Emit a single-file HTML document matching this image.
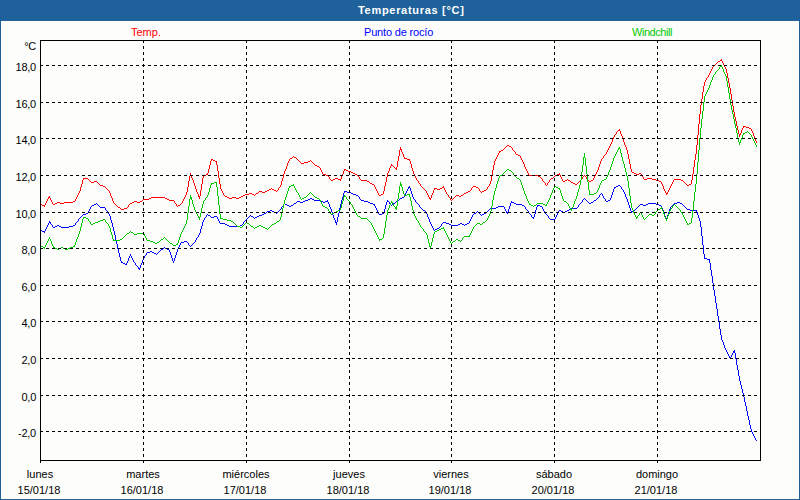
<!DOCTYPE html>
<html><head><meta charset="utf-8"><title>Temperaturas</title>
<style>
html,body{margin:0;padding:0;}
body{width:800px;height:500px;overflow:hidden;background:#fdfefc;font-family:"Liberation Sans",sans-serif;font-size:11px;color:#000;position:relative;}
#wrap{position:absolute;left:0;top:0;width:800px;height:500px;box-sizing:border-box;border:1px solid #1e6299;border-top:none;background:#fdfefc;}
#hdr{position:absolute;left:0;top:0;width:800px;height:21px;background:#1e6299;}
#title{z-index:2;position:absolute;left:358px;top:3px;letter-spacing:0.7px;color:#fff;font-weight:bold;font-size:11px;line-height:14px;white-space:nowrap;}
.lg{position:absolute;top:25px;line-height:14px;white-space:nowrap;font-size:11px;}
.yl{position:absolute;left:0;width:36px;letter-spacing:-0.25px;text-align:right;line-height:14px;white-space:nowrap;}
.xl{position:absolute;width:100px;text-align:center;line-height:14px;white-space:nowrap;}
</style></head><body>
<div id="wrap"></div>
<div id="hdr"></div>
<div id="title">Temperaturas [°C]</div>
<div class="lg" style="left:131px;color:#ff0000">Temp.</div>
<div class="lg" style="left:364px;color:#0000ff;letter-spacing:-0.17px">Punto de rocío</div>
<div class="lg" style="left:632px;color:#00c800;letter-spacing:-0.45px">Windchill</div>
<div class="yl" style="top:39px">°C</div>
<svg width="800" height="500" viewBox="0 0 800 500" style="position:absolute;left:0;top:0">
<defs><pattern id="dth" x="0" y="0" width="4" height="6" patternUnits="userSpaceOnUse"><rect x="2" y="1" width="1" height="1" fill="#2163aa"/><rect x="1" y="3" width="1" height="1" fill="#2163aa"/><rect x="0" y="5" width="1" height="1" fill="#2163aa"/></pattern></defs>
<rect x="0" y="0" width="800" height="21" fill="url(#dth)" shape-rendering="crispEdges"/>
<path d="M40 204h2v1h-2zM42 205h3v1h-3zM48 197h2v1h-2zM53 204h2v1h-2zM55 203h2v1h-2zM57 202h3v1h-3zM60 203h4v1h-4zM64 202h9v1h-9zM73 201h2v1h-2zM83 178h5v1h-5zM91 182h3v1h-3zM94 181h3v1h-3zM100 185h3v1h-3zM103 186h2v1h-2zM118 207h2v1h-2zM121 209h3v1h-3zM124 208h3v1h-3zM130 203h2v1h-2zM132 202h2v1h-2zM134 201h3v1h-3zM137 202h3v1h-3zM140 201h2v1h-2zM143 199h6v1h-6zM149 198h2v1h-2zM151 197h14v1h-14zM165 198h2v1h-2zM167 199h2v1h-2zM169 200h5v1h-5zM178 205h2v1h-2zM190 175h2v1h-2zM198 196h2v1h-2zM203 175h3v1h-3zM206 174h2v1h-2zM211 159h2v1h-2zM213 160h2v1h-2zM215 161h2v1h-2zM225 196h2v1h-2zM227 197h2v1h-2zM229 198h3v1h-3zM232 197h4v1h-4zM236 198h3v1h-3zM239 197h2v1h-2zM241 196h2v1h-2zM243 195h2v1h-2zM245 194h4v1h-4zM249 193h3v1h-3zM252 194h2v1h-2zM256 193h2v1h-2zM259 191h3v1h-3zM262 192h3v1h-3zM265 191h2v1h-2zM267 190h2v1h-2zM269 189h2v1h-2zM272 189h2v1h-2zM274 190h2v1h-2zM290 158h2v1h-2zM294 157h2v1h-2zM301 163h3v1h-3zM304 162h4v1h-4zM308 161h2v1h-2zM315 165h2v1h-2zM317 166h2v1h-2zM323 174h3v1h-3zM326 175h2v1h-2zM331 180h2v1h-2zM333 179h2v1h-2zM335 178h3v1h-3zM338 179h3v1h-3zM344 169h2v1h-2zM346 170h2v1h-2zM348 171h3v1h-3zM351 172h2v1h-2zM353 173h2v1h-2zM355 174h2v1h-2zM361 180h6v1h-6zM367 181h2v1h-2zM370 183h2v1h-2zM372 184h2v1h-2zM379 195h2v1h-2zM381 194h2v1h-2zM391 165h2v1h-2zM395 168h2v1h-2zM400 149h2v1h-2zM404 158h3v1h-3zM407 159h3v1h-3zM429 198h2v1h-2zM434 188h3v1h-3zM437 189h3v1h-3zM440 188h2v1h-2zM442 187h2v1h-2zM456 195h3v1h-3zM459 196h2v1h-2zM461 195h2v1h-2zM464 193h2v1h-2zM466 192h2v1h-2zM468 191h2v1h-2zM473 186h3v1h-3zM476 187h2v1h-2zM482 191h2v1h-2zM484 190h2v1h-2zM499 151h2v1h-2zM501 150h2v1h-2zM507 145h2v1h-2zM509 146h2v1h-2zM516 154h2v1h-2zM518 155h2v1h-2zM529 175h9v1h-9zM538 176h2v1h-2zM551 178h2v1h-2zM555 175h2v1h-2zM557 174h3v1h-3zM563 181h2v1h-2zM565 180h2v1h-2zM568 180h2v1h-2zM571 182h2v1h-2zM573 183h2v1h-2zM575 184h2v1h-2zM589 181h2v1h-2zM591 180h2v1h-2zM618 130h2v1h-2zM632 172h2v1h-2zM634 173h2v1h-2zM636 174h3v1h-3zM639 173h2v1h-2zM644 179h3v1h-3zM647 178h5v1h-5zM652 179h4v1h-4zM656 180h3v1h-3zM659 181h2v1h-2zM666 193h2v1h-2zM674 179h7v1h-7zM681 180h2v1h-2zM687 185h2v1h-2zM689 184h2v1h-2zM718 61h2v1h-2zM720 60h2v1h-2zM739 134h2v1h-2zM743 126h3v1h-3zM746 127h3v1h-3zM749 128h2v1h-2zM44 206h1v1h-1zM45 203h1v2h-1zM46 201h1v2h-1zM47 199h1v2h-1zM48 198h1v1h-1zM49 196h1v1h-1zM50 198h1v2h-1zM51 200h1v2h-1zM52 202h1v2h-1zM75 199h1v2h-1zM76 197h1v2h-1zM77 195h1v2h-1zM78 193h1v2h-1zM79 191h1v2h-1zM80 187h1v4h-1zM81 184h1v3h-1zM82 180h1v4h-1zM83 179h1v1h-1zM88 179h1v1h-1zM89 180h1v1h-1zM90 181h1v1h-1zM97 182h1v1h-1zM98 183h1v1h-1zM99 184h1v1h-1zM105 187h1v1h-1zM106 188h1v1h-1zM107 189h1v1h-1zM108 190h1v1h-1zM109 191h1v2h-1zM110 193h1v3h-1zM111 196h1v2h-1zM112 198h1v3h-1zM113 201h1v2h-1zM114 203h1v1h-1zM115 204h1v1h-1zM116 205h1v1h-1zM117 206h1v1h-1zM120 208h1v1h-1zM127 207h1v1h-1zM128 205h1v2h-1zM129 204h1v1h-1zM142 200h1v1h-1zM174 201h1v2h-1zM175 203h1v1h-1zM176 204h1v2h-1zM177 206h1v1h-1zM180 204h1v1h-1zM181 203h1v1h-1zM182 201h1v2h-1zM183 199h1v2h-1zM184 197h1v2h-1zM185 195h1v2h-1zM186 192h1v3h-1zM187 187h1v5h-1zM188 181h1v6h-1zM189 176h1v5h-1zM190 173h1v2h-1zM191 176h1v2h-1zM192 178h1v2h-1zM193 180h1v3h-1zM194 183h1v3h-1zM195 186h1v3h-1zM196 189h1v3h-1zM197 192h1v2h-1zM198 194h1v2h-1zM199 197h1v2h-1zM200 190h1v6h-1zM201 184h1v6h-1zM202 178h1v6h-1zM203 176h1v2h-1zM207 173h1v1h-1zM208 169h1v4h-1zM209 165h1v4h-1zM210 161h1v4h-1zM211 160h1v1h-1zM216 162h1v3h-1zM217 165h1v6h-1zM218 171h1v7h-1zM219 178h1v6h-1zM220 184h1v5h-1zM221 189h1v2h-1zM222 191h1v2h-1zM223 193h1v2h-1zM224 195h1v1h-1zM254 195h1v1h-1zM255 194h1v1h-1zM258 192h1v1h-1zM271 188h1v1h-1zM276 191h1v1h-1zM277 190h1v1h-1zM278 188h1v2h-1zM279 187h1v1h-1zM280 185h1v2h-1zM281 181h1v4h-1zM282 178h1v3h-1zM283 174h1v4h-1zM284 171h1v3h-1zM285 169h1v2h-1zM286 166h1v3h-1zM287 163h1v3h-1zM288 161h1v2h-1zM289 159h1v2h-1zM292 157h1v1h-1zM293 156h1v1h-1zM296 158h1v1h-1zM297 159h1v1h-1zM298 160h1v1h-1zM299 161h1v1h-1zM300 162h1v1h-1zM310 160h1v1h-1zM311 161h1v1h-1zM312 162h1v1h-1zM313 163h1v1h-1zM314 164h1v1h-1zM319 167h1v1h-1zM320 168h1v2h-1zM321 170h1v2h-1zM322 172h1v2h-1zM328 176h1v1h-1zM329 177h1v2h-1zM330 179h1v1h-1zM340 180h1v1h-1zM341 176h1v3h-1zM342 174h1v2h-1zM343 171h1v3h-1zM344 170h1v1h-1zM357 175h1v1h-1zM358 176h1v1h-1zM359 177h1v2h-1zM360 179h1v1h-1zM369 182h1v1h-1zM374 185h1v2h-1zM375 187h1v2h-1zM376 189h1v2h-1zM377 191h1v2h-1zM378 193h1v2h-1zM383 191h1v3h-1zM384 186h1v5h-1zM385 182h1v4h-1zM386 177h1v5h-1zM387 173h1v4h-1zM388 171h1v2h-1zM389 168h1v3h-1zM390 166h1v2h-1zM391 164h1v1h-1zM393 166h1v1h-1zM394 167h1v1h-1zM396 167h1v1h-1zM396 169h1v1h-1zM397 161h1v6h-1zM398 156h1v5h-1zM399 150h1v6h-1zM400 147h1v2h-1zM401 150h1v2h-1zM402 152h1v2h-1zM403 154h1v3h-1zM404 157h1v1h-1zM409 160h1v1h-1zM410 161h1v3h-1zM411 164h1v4h-1zM412 168h1v3h-1zM413 171h1v3h-1zM414 174h1v2h-1zM415 176h1v2h-1zM416 178h1v2h-1zM417 180h1v1h-1zM418 181h1v2h-1zM419 183h1v1h-1zM420 184h1v2h-1zM421 186h1v1h-1zM422 187h1v1h-1zM423 188h1v1h-1zM424 189h1v1h-1zM425 190h1v1h-1zM426 191h1v2h-1zM427 193h1v2h-1zM428 195h1v2h-1zM429 197h1v1h-1zM430 199h1v1h-1zM431 195h1v3h-1zM432 193h1v2h-1zM433 190h1v3h-1zM434 189h1v1h-1zM443 186h1v1h-1zM444 188h1v2h-1zM445 190h1v2h-1zM446 192h1v2h-1zM447 194h1v1h-1zM448 195h1v2h-1zM449 197h1v1h-1zM450 198h1v2h-1zM451 200h1v1h-1zM452 199h1v1h-1zM453 198h1v1h-1zM454 197h1v1h-1zM455 196h1v1h-1zM463 194h1v1h-1zM470 190h1v1h-1zM471 188h1v2h-1zM472 187h1v1h-1zM478 188h1v1h-1zM479 189h1v2h-1zM480 191h1v1h-1zM481 192h1v1h-1zM486 189h1v1h-1zM487 187h1v2h-1zM488 186h1v1h-1zM489 184h1v2h-1zM490 181h1v3h-1zM491 176h1v5h-1zM492 170h1v6h-1zM493 165h1v5h-1zM494 161h1v4h-1zM495 159h1v2h-1zM496 157h1v2h-1zM497 155h1v2h-1zM498 153h1v2h-1zM499 152h1v1h-1zM503 149h1v1h-1zM504 148h1v1h-1zM505 147h1v1h-1zM506 146h1v1h-1zM511 147h1v1h-1zM512 148h1v2h-1zM513 150h1v1h-1zM514 151h1v1h-1zM515 152h1v2h-1zM520 156h1v2h-1zM521 158h1v2h-1zM522 160h1v2h-1zM523 162h1v2h-1zM524 164h1v3h-1zM525 167h1v2h-1zM526 169h1v2h-1zM527 171h1v2h-1zM528 173h1v2h-1zM540 177h1v1h-1zM541 178h1v1h-1zM542 179h1v2h-1zM543 181h1v1h-1zM544 182h1v1h-1zM545 183h1v2h-1zM546 185h1v1h-1zM547 183h1v2h-1zM548 182h1v1h-1zM549 180h1v2h-1zM550 179h1v1h-1zM553 177h1v1h-1zM554 176h1v1h-1zM559 173h1v1h-1zM560 175h1v2h-1zM561 177h1v2h-1zM562 179h1v2h-1zM567 179h1v1h-1zM570 181h1v1h-1zM577 183h1v1h-1zM578 182h1v1h-1zM579 181h1v1h-1zM580 180h1v1h-1zM581 179h1v1h-1zM582 177h1v2h-1zM583 176h1v1h-1zM584 175h1v1h-1zM585 176h1v1h-1zM586 177h1v2h-1zM587 179h1v1h-1zM588 180h1v1h-1zM593 178h1v2h-1zM594 176h1v2h-1zM595 174h1v2h-1zM596 172h1v2h-1zM597 170h1v2h-1zM598 167h1v3h-1zM599 164h1v3h-1zM600 161h1v3h-1zM601 159h1v2h-1zM602 158h1v1h-1zM603 156h1v2h-1zM604 155h1v1h-1zM605 154h1v1h-1zM606 152h1v2h-1zM607 150h1v2h-1zM608 148h1v2h-1zM609 146h1v2h-1zM610 144h1v2h-1zM611 142h1v2h-1zM612 139h1v3h-1zM613 137h1v2h-1zM614 135h1v2h-1zM615 134h1v1h-1zM616 132h1v2h-1zM617 131h1v1h-1zM619 129h1v1h-1zM620 131h1v3h-1zM621 134h1v2h-1zM622 136h1v3h-1zM623 139h1v3h-1zM624 142h1v3h-1zM625 145h1v2h-1zM626 147h1v3h-1zM627 150h1v4h-1zM628 154h1v5h-1zM629 159h1v5h-1zM630 164h1v5h-1zM631 169h1v3h-1zM641 174h1v2h-1zM642 176h1v1h-1zM643 177h1v2h-1zM661 182h1v2h-1zM662 184h1v2h-1zM663 186h1v3h-1zM664 189h1v2h-1zM665 191h1v2h-1zM666 194h1v1h-1zM667 192h1v1h-1zM668 190h1v2h-1zM669 188h1v2h-1zM670 186h1v2h-1zM671 184h1v2h-1zM672 182h1v2h-1zM673 180h1v2h-1zM683 181h1v1h-1zM684 182h1v1h-1zM685 183h1v1h-1zM686 184h1v1h-1zM691 180h1v4h-1zM692 174h1v6h-1zM693 167h1v7h-1zM694 160h1v7h-1zM695 154h1v6h-1zM696 145h1v9h-1zM697 135h1v10h-1zM698 124h1v11h-1zM699 114h1v10h-1zM700 105h1v9h-1zM701 99h1v6h-1zM702 92h1v7h-1zM703 86h1v6h-1zM704 82h1v4h-1zM705 80h1v2h-1zM706 78h1v2h-1zM707 77h1v1h-1zM708 75h1v2h-1zM709 73h1v2h-1zM710 71h1v2h-1zM711 69h1v2h-1zM712 67h1v2h-1zM713 66h1v1h-1zM714 65h1v1h-1zM715 64h1v1h-1zM716 63h1v1h-1zM717 62h1v1h-1zM721 59h1v1h-1zM722 61h1v2h-1zM723 63h1v2h-1zM724 65h1v2h-1zM725 67h1v2h-1zM726 69h1v4h-1zM727 73h1v5h-1zM728 78h1v5h-1zM729 83h1v5h-1zM730 88h1v6h-1zM731 94h1v6h-1zM732 100h1v6h-1zM733 106h1v6h-1zM734 112h1v5h-1zM735 117h1v4h-1zM736 121h1v5h-1zM737 126h1v4h-1zM738 130h1v4h-1zM739 135h1v2h-1zM740 133h1v1h-1zM741 130h1v3h-1zM742 128h1v2h-1zM743 127h1v1h-1zM751 129h1v2h-1zM752 131h1v2h-1zM753 133h1v3h-1zM754 136h1v3h-1zM755 139h1v2h-1zM756 141h1v2h-1z" fill="#ff0000" shape-rendering="crispEdges"/>
<path d="M40 230h2v1h-2zM42 231h3v1h-3zM49 222h2v1h-2zM53 227h2v1h-2zM55 226h2v1h-2zM57 225h2v1h-2zM59 226h2v1h-2zM61 227h8v1h-8zM69 226h4v1h-4zM73 225h2v1h-2zM83 214h3v1h-3zM86 213h2v1h-2zM92 205h2v1h-2zM94 204h2v1h-2zM100 207h5v1h-5zM121 262h2v1h-2zM123 263h2v1h-2zM125 264h2v1h-2zM138 268h2v1h-2zM147 252h3v1h-3zM150 251h2v1h-2zM152 252h2v1h-2zM154 253h2v1h-2zM161 249h2v1h-2zM165 248h2v1h-2zM167 249h2v1h-2zM181 242h3v1h-3zM184 241h3v1h-3zM208 215h2v1h-2zM211 217h3v1h-3zM214 216h3v1h-3zM220 223h5v1h-5zM225 224h2v1h-2zM227 225h2v1h-2zM229 226h11v1h-11zM240 225h2v1h-2zM251 216h2v1h-2zM255 217h2v1h-2zM257 216h2v1h-2zM259 215h3v1h-3zM262 214h2v1h-2zM264 213h2v1h-2zM267 211h3v1h-3zM270 210h2v1h-2zM272 211h2v1h-2zM274 212h2v1h-2zM285 204h2v1h-2zM287 205h2v1h-2zM289 206h2v1h-2zM291 205h2v1h-2zM294 203h2v1h-2zM297 201h3v1h-3zM300 202h3v1h-3zM303 201h2v1h-2zM305 200h3v1h-3zM308 199h2v1h-2zM310 198h2v1h-2zM312 199h2v1h-2zM314 200h7v1h-7zM321 201h2v1h-2zM323 202h2v1h-2zM325 201h3v1h-3zM335 222h2v1h-2zM344 191h3v1h-3zM347 192h4v1h-4zM351 193h2v1h-2zM353 194h3v1h-3zM356 195h2v1h-2zM361 200h3v1h-3zM364 201h4v1h-4zM368 202h2v1h-2zM370 203h3v1h-3zM373 204h2v1h-2zM379 214h3v1h-3zM382 213h2v1h-2zM387 201h2v1h-2zM393 203h2v1h-2zM397 200h2v1h-2zM400 198h2v1h-2zM402 197h2v1h-2zM408 187h2v1h-2zM423 210h2v1h-2zM435 229h2v1h-2zM437 228h2v1h-2zM443 222h3v1h-3zM446 223h3v1h-3zM449 224h2v1h-2zM451 225h7v1h-7zM458 224h2v1h-2zM460 223h2v1h-2zM462 224h2v1h-2zM465 224h2v1h-2zM467 223h2v1h-2zM474 213h2v1h-2zM482 214h2v1h-2zM484 213h2v1h-2zM490 208h6v1h-6zM496 207h2v1h-2zM498 206h6v1h-6zM506 212h2v1h-2zM511 202h3v1h-3zM514 203h2v1h-2zM516 204h6v1h-6zM522 205h2v1h-2zM532 217h2v1h-2zM537 205h3v1h-3zM540 206h2v1h-2zM550 219h5v1h-5zM559 210h2v1h-2zM561 211h2v1h-2zM563 212h2v1h-2zM565 211h2v1h-2zM567 210h2v1h-2zM569 209h2v1h-2zM571 208h6v1h-6zM589 203h2v1h-2zM591 202h2v1h-2zM594 200h2v1h-2zM606 201h2v1h-2zM608 200h2v1h-2zM614 187h2v1h-2zM616 186h2v1h-2zM618 185h2v1h-2zM631 211h2v1h-2zM633 210h2v1h-2zM640 204h3v1h-3zM643 205h3v1h-3zM646 204h2v1h-2zM648 203h8v1h-8zM656 204h3v1h-3zM659 205h2v1h-2zM674 203h3v1h-3zM677 202h3v1h-3zM680 203h2v1h-2zM687 209h3v1h-3zM690 210h7v1h-7zM704 258h3v1h-3zM707 259h3v1h-3zM729 357h2v1h-2zM733 351h2v1h-2zM733 352h2v1h-2zM44 232h1v1h-1zM45 229h1v2h-1zM46 227h1v2h-1zM47 225h1v2h-1zM48 223h1v2h-1zM49 221h1v1h-1zM50 223h1v1h-1zM51 224h1v1h-1zM52 225h1v2h-1zM75 223h1v2h-1zM76 222h1v1h-1zM77 221h1v1h-1zM78 219h1v2h-1zM79 218h1v1h-1zM80 217h1v1h-1zM81 216h1v1h-1zM82 215h1v1h-1zM88 211h1v2h-1zM89 209h1v2h-1zM90 207h1v2h-1zM91 206h1v1h-1zM96 203h1v1h-1zM97 204h1v1h-1zM98 205h1v1h-1zM99 206h1v1h-1zM105 208h1v2h-1zM106 210h1v1h-1zM107 211h1v1h-1zM108 212h1v2h-1zM109 214h1v2h-1zM110 216h1v4h-1zM111 220h1v3h-1zM112 223h1v4h-1zM113 227h1v4h-1zM114 231h1v4h-1zM115 235h1v5h-1zM116 240h1v4h-1zM117 244h1v5h-1zM118 249h1v4h-1zM119 253h1v4h-1zM120 257h1v4h-1zM121 261h1v1h-1zM126 263h1v1h-1zM127 261h1v2h-1zM128 258h1v3h-1zM129 256h1v2h-1zM130 254h1v2h-1zM131 256h1v2h-1zM132 258h1v2h-1zM133 260h1v2h-1zM134 262h1v1h-1zM135 263h1v2h-1zM136 265h1v1h-1zM137 266h1v1h-1zM138 267h1v1h-1zM139 269h1v1h-1zM140 265h1v3h-1zM141 263h1v2h-1zM142 260h1v3h-1zM143 258h1v2h-1zM144 256h1v2h-1zM145 255h1v1h-1zM146 253h1v2h-1zM156 254h1v1h-1zM157 253h1v1h-1zM158 252h1v1h-1zM159 251h1v1h-1zM160 250h1v1h-1zM163 248h1v1h-1zM164 247h1v1h-1zM169 250h1v2h-1zM170 252h1v3h-1zM171 255h1v3h-1zM172 258h1v3h-1zM173 261h1v2h-1zM174 258h1v3h-1zM175 255h1v3h-1zM176 252h1v3h-1zM177 249h1v3h-1zM178 247h1v2h-1zM179 245h1v2h-1zM180 243h1v2h-1zM187 242h1v1h-1zM188 243h1v2h-1zM189 245h1v1h-1zM190 246h1v1h-1zM191 245h1v1h-1zM192 244h1v1h-1zM193 243h1v1h-1zM194 242h1v1h-1zM195 240h1v2h-1zM196 238h1v2h-1zM197 237h1v1h-1zM198 235h1v2h-1zM199 233h1v2h-1zM200 229h1v4h-1zM201 226h1v3h-1zM202 222h1v4h-1zM203 220h1v2h-1zM204 218h1v2h-1zM205 217h1v1h-1zM206 215h1v2h-1zM207 214h1v1h-1zM210 216h1v1h-1zM217 217h1v2h-1zM218 219h1v2h-1zM219 221h1v2h-1zM242 224h1v1h-1zM243 222h1v2h-1zM244 221h1v1h-1zM245 220h1v1h-1zM246 219h1v1h-1zM247 218h1v1h-1zM248 217h1v1h-1zM249 216h1v1h-1zM250 215h1v1h-1zM253 217h1v1h-1zM254 218h1v1h-1zM266 212h1v1h-1zM276 213h1v1h-1zM277 212h1v1h-1zM278 211h1v1h-1zM279 210h1v1h-1zM280 209h1v1h-1zM281 207h1v2h-1zM282 206h1v1h-1zM283 204h1v2h-1zM284 203h1v1h-1zM293 204h1v1h-1zM296 202h1v1h-1zM327 200h1v1h-1zM328 202h1v2h-1zM329 204h1v3h-1zM330 207h1v2h-1zM331 209h1v3h-1zM332 212h1v3h-1zM333 215h1v3h-1zM334 218h1v2h-1zM335 220h1v2h-1zM336 223h1v2h-1zM337 217h1v5h-1zM338 213h1v4h-1zM339 208h1v5h-1zM340 204h1v4h-1zM341 200h1v4h-1zM342 197h1v3h-1zM343 193h1v4h-1zM344 192h1v1h-1zM358 196h1v1h-1zM359 197h1v2h-1zM360 199h1v1h-1zM374 205h1v1h-1zM375 206h1v2h-1zM376 208h1v2h-1zM377 210h1v2h-1zM378 212h1v2h-1zM383 212h1v1h-1zM384 209h1v3h-1zM385 205h1v4h-1zM386 202h1v3h-1zM387 200h1v1h-1zM389 202h1v2h-1zM390 204h1v1h-1zM391 205h1v1h-1zM392 204h1v1h-1zM395 202h1v1h-1zM396 201h1v1h-1zM399 199h1v1h-1zM404 195h1v2h-1zM405 193h1v2h-1zM406 191h1v2h-1zM407 189h1v2h-1zM408 188h1v1h-1zM409 186h1v1h-1zM410 188h1v3h-1zM411 191h1v3h-1zM412 194h1v3h-1zM413 197h1v2h-1zM414 199h1v1h-1zM415 200h1v2h-1zM416 202h1v1h-1zM417 203h1v1h-1zM418 204h1v1h-1zM419 205h1v2h-1zM420 207h1v1h-1zM421 208h1v1h-1zM422 209h1v1h-1zM425 211h1v1h-1zM426 212h1v2h-1zM427 214h1v3h-1zM428 217h1v2h-1zM429 219h1v3h-1zM430 222h1v2h-1zM431 224h1v2h-1zM432 226h1v2h-1zM433 228h1v2h-1zM434 230h1v1h-1zM439 227h1v1h-1zM440 226h1v1h-1zM441 224h1v2h-1zM442 223h1v1h-1zM464 225h1v1h-1zM469 221h1v2h-1zM470 219h1v2h-1zM471 217h1v2h-1zM472 215h1v2h-1zM473 214h1v1h-1zM476 212h1v1h-1zM477 211h1v1h-1zM478 212h1v1h-1zM479 213h1v1h-1zM480 214h1v1h-1zM481 215h1v1h-1zM486 212h1v1h-1zM487 211h1v1h-1zM488 210h1v1h-1zM489 209h1v1h-1zM504 207h1v2h-1zM505 209h1v2h-1zM506 211h1v1h-1zM507 213h1v1h-1zM508 209h1v3h-1zM509 206h1v3h-1zM510 203h1v3h-1zM511 201h1v1h-1zM524 206h1v1h-1zM525 207h1v2h-1zM526 209h1v1h-1zM527 210h1v1h-1zM528 211h1v2h-1zM529 213h1v1h-1zM530 214h1v1h-1zM531 215h1v2h-1zM533 218h1v1h-1zM534 214h1v3h-1zM535 210h1v4h-1zM536 207h1v3h-1zM537 206h1v1h-1zM542 207h1v2h-1zM543 209h1v2h-1zM544 211h1v1h-1zM545 212h1v2h-1zM546 214h1v1h-1zM547 215h1v1h-1zM548 216h1v2h-1zM549 218h1v1h-1zM555 217h1v2h-1zM556 215h1v2h-1zM557 213h1v2h-1zM558 211h1v2h-1zM577 207h1v1h-1zM578 205h1v2h-1zM579 204h1v1h-1zM580 203h1v1h-1zM581 202h1v1h-1zM582 200h1v2h-1zM583 199h1v1h-1zM584 198h1v1h-1zM585 199h1v1h-1zM586 200h1v1h-1zM587 201h1v1h-1zM588 202h1v1h-1zM593 201h1v1h-1zM596 199h1v1h-1zM597 198h1v1h-1zM598 197h1v1h-1zM599 195h1v2h-1zM600 194h1v1h-1zM601 193h1v1h-1zM602 194h1v2h-1zM603 196h1v2h-1zM604 198h1v1h-1zM605 199h1v2h-1zM610 198h1v2h-1zM611 195h1v3h-1zM612 192h1v3h-1zM613 189h1v3h-1zM614 188h1v1h-1zM620 186h1v1h-1zM621 187h1v2h-1zM622 189h1v1h-1zM623 190h1v2h-1zM624 192h1v2h-1zM625 194h1v3h-1zM626 197h1v2h-1zM627 199h1v3h-1zM628 202h1v3h-1zM629 205h1v3h-1zM630 208h1v3h-1zM631 212h1v1h-1zM635 209h1v1h-1zM636 208h1v1h-1zM637 207h1v1h-1zM638 206h1v1h-1zM639 205h1v1h-1zM661 206h1v2h-1zM662 208h1v2h-1zM663 210h1v3h-1zM664 213h1v3h-1zM665 216h1v2h-1zM666 218h1v2h-1zM667 215h1v3h-1zM668 212h1v3h-1zM669 209h1v3h-1zM670 207h1v2h-1zM671 206h1v1h-1zM672 205h1v1h-1zM673 204h1v1h-1zM682 204h1v1h-1zM683 205h1v1h-1zM684 206h1v1h-1zM685 207h1v1h-1zM686 208h1v1h-1zM696 211h1v1h-1zM697 212h1v3h-1zM698 215h1v3h-1zM699 218h1v3h-1zM700 221h1v6h-1zM701 227h1v9h-1zM702 236h1v9h-1zM703 245h1v9h-1zM704 254h1v4h-1zM709 260h1v3h-1zM710 263h1v7h-1zM711 270h1v6h-1zM712 276h1v7h-1zM713 283h1v7h-1zM714 290h1v6h-1zM715 296h1v7h-1zM716 303h1v6h-1zM717 309h1v7h-1zM718 316h1v6h-1zM719 322h1v7h-1zM720 329h1v6h-1zM721 335h1v5h-1zM722 340h1v2h-1zM723 342h1v3h-1zM724 345h1v3h-1zM725 348h1v2h-1zM726 350h1v2h-1zM727 352h1v2h-1zM728 354h1v2h-1zM729 356h1v1h-1zM730 358h1v1h-1zM731 355h1v2h-1zM732 353h1v2h-1zM734 350h1v1h-1zM735 353h1v6h-1zM736 359h1v6h-1zM737 365h1v5h-1zM738 370h1v6h-1zM739 376h1v5h-1zM740 381h1v4h-1zM741 385h1v4h-1zM742 389h1v4h-1zM743 393h1v4h-1zM744 397h1v5h-1zM745 402h1v4h-1zM746 406h1v5h-1zM747 411h1v5h-1zM748 416h1v4h-1zM749 420h1v5h-1zM750 425h1v4h-1zM751 429h1v3h-1zM752 432h1v2h-1zM753 434h1v2h-1zM754 436h1v2h-1zM755 438h1v2h-1zM756 440h1v1h-1z" fill="#0000ff" shape-rendering="crispEdges"/>
<path d="M41 246h2v1h-2zM43 247h2v1h-2zM53 247h2v1h-2zM55 248h2v1h-2zM57 249h2v1h-2zM59 248h2v1h-2zM61 247h2v1h-2zM63 248h2v1h-2zM65 249h3v1h-3zM68 248h2v1h-2zM70 247h3v1h-3zM73 246h2v1h-2zM83 217h3v1h-3zM86 218h2v1h-2zM91 224h2v1h-2zM93 223h2v1h-2zM95 222h3v1h-3zM98 221h2v1h-2zM100 220h3v1h-3zM103 219h2v1h-2zM113 240h7v1h-7zM120 239h2v1h-2zM127 233h2v1h-2zM131 232h2v1h-2zM134 234h3v1h-3zM137 233h7v1h-7zM147 240h3v1h-3zM150 241h3v1h-3zM153 242h2v1h-2zM155 243h2v1h-2zM157 242h2v1h-2zM161 239h2v1h-2zM170 243h2v1h-2zM173 245h3v1h-3zM176 244h2v1h-2zM190 197h2v1h-2zM190 198h2v1h-2zM198 217h2v1h-2zM211 183h3v1h-3zM214 182h3v1h-3zM220 218h3v1h-3zM223 219h4v1h-4zM227 220h4v1h-4zM231 221h2v1h-2zM237 226h3v1h-3zM240 227h2v1h-2zM247 223h2v1h-2zM251 226h2v1h-2zM255 227h2v1h-2zM257 226h2v1h-2zM259 225h2v1h-2zM261 226h2v1h-2zM263 227h2v1h-2zM265 228h2v1h-2zM272 224h2v1h-2zM274 223h2v1h-2zM277 221h2v1h-2zM289 186h2v1h-2zM291 185h3v1h-3zM302 198h2v1h-2zM304 197h2v1h-2zM315 197h2v1h-2zM317 198h2v1h-2zM323 206h2v1h-2zM325 207h2v1h-2zM332 213h2v1h-2zM334 212h2v1h-2zM336 211h2v1h-2zM338 210h2v1h-2zM344 196h2v1h-2zM358 216h2v1h-2zM361 218h6v1h-6zM379 239h3v1h-3zM391 202h2v1h-2zM395 207h2v1h-2zM395 208h2v1h-2zM400 184h2v1h-2zM400 185h2v1h-2zM404 195h3v1h-3zM407 194h3v1h-3zM429 246h2v1h-2zM435 231h2v1h-2zM437 230h2v1h-2zM439 229h2v1h-2zM441 228h3v1h-3zM453 241h2v1h-2zM456 239h2v1h-2zM458 240h2v1h-2zM464 236h6v1h-6zM477 223h3v1h-3zM480 224h2v1h-2zM483 222h2v1h-2zM500 175h2v1h-2zM507 169h2v1h-2zM509 170h2v1h-2zM517 178h2v1h-2zM529 204h2v1h-2zM531 205h2v1h-2zM534 205h2v1h-2zM537 203h6v1h-6zM543 204h2v1h-2zM545 205h2v1h-2zM554 186h2v1h-2zM556 187h2v1h-2zM558 188h2v1h-2zM564 201h2v1h-2zM570 209h2v1h-2zM583 157h2v1h-2zM589 194h5v1h-5zM594 193h2v1h-2zM602 180h2v1h-2zM604 179h2v1h-2zM618 148h2v1h-2zM636 217h2v1h-2zM649 214h3v1h-3zM652 215h2v1h-2zM658 209h2v1h-2zM660 208h2v1h-2zM687 224h2v1h-2zM689 223h2v1h-2zM720 66h2v1h-2zM739 142h2v1h-2zM743 133h2v1h-2zM745 132h2v1h-2zM40 245h1v1h-1zM44 248h1v1h-1zM45 245h1v2h-1zM46 243h1v2h-1zM47 241h1v2h-1zM48 239h1v2h-1zM49 237h1v2h-1zM50 239h1v2h-1zM51 241h1v3h-1zM52 244h1v2h-1zM53 246h1v1h-1zM74 245h1v1h-1zM75 242h1v3h-1zM76 239h1v3h-1zM77 237h1v2h-1zM78 234h1v3h-1zM79 231h1v3h-1zM80 227h1v4h-1zM81 223h1v4h-1zM82 219h1v4h-1zM83 218h1v1h-1zM88 219h1v2h-1zM89 221h1v1h-1zM90 222h1v2h-1zM105 220h1v2h-1zM106 222h1v1h-1zM107 223h1v1h-1zM108 224h1v2h-1zM109 226h1v2h-1zM110 228h1v4h-1zM111 232h1v3h-1zM112 235h1v4h-1zM113 239h1v1h-1zM122 238h1v1h-1zM123 237h1v1h-1zM124 236h1v1h-1zM125 235h1v1h-1zM126 234h1v1h-1zM129 232h1v1h-1zM130 231h1v1h-1zM133 233h1v1h-1zM144 234h1v2h-1zM145 236h1v2h-1zM146 238h1v2h-1zM159 241h1v1h-1zM160 240h1v1h-1zM163 238h1v1h-1zM164 237h1v1h-1zM165 238h1v1h-1zM166 239h1v1h-1zM167 240h1v1h-1zM168 241h1v1h-1zM169 242h1v1h-1zM172 244h1v1h-1zM177 243h1v1h-1zM178 240h1v3h-1zM179 237h1v3h-1zM180 234h1v3h-1zM181 232h1v2h-1zM182 230h1v2h-1zM183 228h1v2h-1zM184 226h1v2h-1zM185 224h1v2h-1zM186 220h1v4h-1zM187 213h1v7h-1zM188 206h1v7h-1zM189 199h1v7h-1zM190 195h1v2h-1zM191 199h1v1h-1zM192 200h1v4h-1zM193 204h1v3h-1zM194 207h1v3h-1zM195 210h1v2h-1zM196 212h1v2h-1zM197 214h1v2h-1zM198 216h1v1h-1zM199 218h1v2h-1zM200 213h1v4h-1zM201 208h1v5h-1zM202 204h1v4h-1zM203 201h1v3h-1zM204 200h1v1h-1zM205 198h1v2h-1zM206 197h1v1h-1zM207 195h1v2h-1zM208 192h1v3h-1zM209 188h1v4h-1zM210 185h1v3h-1zM211 184h1v1h-1zM216 183h1v4h-1zM217 187h1v9h-1zM218 196h1v9h-1zM219 205h1v9h-1zM220 214h1v4h-1zM233 222h1v1h-1zM234 223h1v1h-1zM235 224h1v1h-1zM236 225h1v1h-1zM242 226h1v1h-1zM243 225h1v1h-1zM244 224h1v1h-1zM245 223h1v1h-1zM246 222h1v1h-1zM249 224h1v1h-1zM250 225h1v1h-1zM253 227h1v1h-1zM254 228h1v1h-1zM267 229h1v1h-1zM268 228h1v1h-1zM269 227h1v1h-1zM270 226h1v1h-1zM271 225h1v1h-1zM276 222h1v1h-1zM279 220h1v1h-1zM280 217h1v3h-1zM281 213h1v4h-1zM282 208h1v5h-1zM283 204h1v4h-1zM284 200h1v4h-1zM285 197h1v3h-1zM286 194h1v3h-1zM287 191h1v3h-1zM288 188h1v3h-1zM289 187h1v1h-1zM293 184h1v1h-1zM294 186h1v2h-1zM295 188h1v2h-1zM296 190h1v2h-1zM297 192h1v1h-1zM298 193h1v2h-1zM299 195h1v2h-1zM300 197h1v2h-1zM301 199h1v1h-1zM306 196h1v1h-1zM307 195h1v1h-1zM308 194h1v1h-1zM309 193h1v1h-1zM310 192h1v1h-1zM311 193h1v1h-1zM312 194h1v1h-1zM313 195h1v1h-1zM314 196h1v1h-1zM319 199h1v1h-1zM320 200h1v2h-1zM321 202h1v2h-1zM322 204h1v2h-1zM327 208h1v1h-1zM328 209h1v2h-1zM329 211h1v1h-1zM330 212h1v2h-1zM331 214h1v1h-1zM340 208h1v2h-1zM341 204h1v4h-1zM342 201h1v3h-1zM343 197h1v4h-1zM344 195h1v1h-1zM346 197h1v2h-1zM347 199h1v1h-1zM348 200h1v1h-1zM349 201h1v1h-1zM350 202h1v2h-1zM351 204h1v1h-1zM352 205h1v2h-1zM353 207h1v2h-1zM354 209h1v2h-1zM355 211h1v2h-1zM356 213h1v2h-1zM357 215h1v1h-1zM360 217h1v1h-1zM367 219h1v1h-1zM368 220h1v1h-1zM369 221h1v1h-1zM370 222h1v1h-1zM371 223h1v2h-1zM372 225h1v2h-1zM373 227h1v2h-1zM374 229h1v2h-1zM375 231h1v2h-1zM376 233h1v2h-1zM377 235h1v2h-1zM378 237h1v2h-1zM379 240h1v1h-1zM382 238h1v1h-1zM383 234h1v4h-1zM384 228h1v6h-1zM385 221h1v7h-1zM386 215h1v6h-1zM387 210h1v5h-1zM388 208h1v2h-1zM389 205h1v3h-1zM390 203h1v2h-1zM391 201h1v1h-1zM392 203h1v1h-1zM393 204h1v2h-1zM394 206h1v1h-1zM396 206h1v1h-1zM396 209h1v1h-1zM397 199h1v7h-1zM398 193h1v6h-1zM399 186h1v7h-1zM400 182h1v2h-1zM401 186h1v1h-1zM402 187h1v4h-1zM403 191h1v3h-1zM404 194h1v1h-1zM409 195h1v2h-1zM410 197h1v4h-1zM411 201h1v5h-1zM412 206h1v4h-1zM413 210h1v4h-1zM414 214h1v2h-1zM415 216h1v2h-1zM416 218h1v2h-1zM417 220h1v1h-1zM418 221h1v2h-1zM419 223h1v2h-1zM420 225h1v2h-1zM421 227h1v1h-1zM422 228h1v1h-1zM423 229h1v2h-1zM424 231h1v1h-1zM425 232h1v1h-1zM426 233h1v2h-1zM427 235h1v4h-1zM428 239h1v4h-1zM429 243h1v3h-1zM430 247h1v2h-1zM431 242h1v4h-1zM432 238h1v4h-1zM433 234h1v4h-1zM434 232h1v2h-1zM443 227h1v1h-1zM444 229h1v2h-1zM445 231h1v2h-1zM446 233h1v2h-1zM447 235h1v2h-1zM448 237h1v2h-1zM449 239h1v2h-1zM450 241h1v2h-1zM451 243h1v1h-1zM452 242h1v1h-1zM455 240h1v1h-1zM460 241h1v1h-1zM461 240h1v1h-1zM462 238h1v2h-1zM463 237h1v1h-1zM469 235h1v1h-1zM470 233h1v2h-1zM471 231h1v2h-1zM472 229h1v2h-1zM473 227h1v2h-1zM474 226h1v1h-1zM475 225h1v1h-1zM476 224h1v1h-1zM482 223h1v1h-1zM485 221h1v1h-1zM486 220h1v1h-1zM487 218h1v2h-1zM488 216h1v2h-1zM489 214h1v2h-1zM490 211h1v3h-1zM491 206h1v5h-1zM492 200h1v6h-1zM493 195h1v5h-1zM494 191h1v4h-1zM495 188h1v3h-1zM496 184h1v4h-1zM497 181h1v3h-1zM498 178h1v3h-1zM499 176h1v2h-1zM502 174h1v1h-1zM503 173h1v1h-1zM504 172h1v1h-1zM505 171h1v1h-1zM506 170h1v1h-1zM511 171h1v1h-1zM512 172h1v1h-1zM513 173h1v2h-1zM514 175h1v1h-1zM515 176h1v1h-1zM516 177h1v1h-1zM519 179h1v1h-1zM520 180h1v2h-1zM521 182h1v3h-1zM522 185h1v3h-1zM523 188h1v3h-1zM524 191h1v3h-1zM525 194h1v2h-1zM526 196h1v3h-1zM527 199h1v2h-1zM528 201h1v2h-1zM529 203h1v1h-1zM533 206h1v1h-1zM536 204h1v1h-1zM546 204h1v1h-1zM547 202h1v2h-1zM548 200h1v2h-1zM549 198h1v2h-1zM550 195h1v3h-1zM551 193h1v2h-1zM552 190h1v3h-1zM553 188h1v2h-1zM554 187h1v1h-1zM559 189h1v1h-1zM560 190h1v3h-1zM561 193h1v3h-1zM562 196h1v3h-1zM563 199h1v2h-1zM566 202h1v1h-1zM567 203h1v1h-1zM568 204h1v2h-1zM569 206h1v2h-1zM570 208h1v1h-1zM571 210h1v1h-1zM572 207h1v2h-1zM573 204h1v3h-1zM574 201h1v3h-1zM575 199h1v2h-1zM576 196h1v3h-1zM577 192h1v4h-1zM578 189h1v3h-1zM579 185h1v4h-1zM580 180h1v5h-1zM581 172h1v8h-1zM582 165h1v7h-1zM583 158h1v7h-1zM584 153h1v4h-1zM585 158h1v8h-1zM586 166h1v8h-1zM587 174h1v8h-1zM588 182h1v8h-1zM589 190h1v4h-1zM596 192h1v1h-1zM597 190h1v2h-1zM598 188h1v2h-1zM599 185h1v3h-1zM600 183h1v2h-1zM601 181h1v2h-1zM606 177h1v2h-1zM607 175h1v2h-1zM608 172h1v3h-1zM609 170h1v2h-1zM610 167h1v3h-1zM611 164h1v3h-1zM612 161h1v3h-1zM613 158h1v3h-1zM614 156h1v2h-1zM615 154h1v2h-1zM616 152h1v2h-1zM617 150h1v2h-1zM618 149h1v1h-1zM619 147h1v1h-1zM620 149h1v4h-1zM621 153h1v4h-1zM622 157h1v4h-1zM623 161h1v3h-1zM624 164h1v4h-1zM625 168h1v4h-1zM626 172h1v4h-1zM627 176h1v5h-1zM628 181h1v7h-1zM629 188h1v8h-1zM630 196h1v7h-1zM631 203h1v5h-1zM632 208h1v2h-1zM633 210h1v3h-1zM634 213h1v2h-1zM635 215h1v2h-1zM636 218h1v1h-1zM637 216h1v1h-1zM638 215h1v1h-1zM639 213h1v2h-1zM640 212h1v1h-1zM641 213h1v2h-1zM642 215h1v2h-1zM643 217h1v2h-1zM644 219h1v1h-1zM645 218h1v1h-1zM646 217h1v1h-1zM647 216h1v1h-1zM648 215h1v1h-1zM654 214h1v1h-1zM655 212h1v2h-1zM656 211h1v1h-1zM657 210h1v1h-1zM661 207h1v1h-1zM662 209h1v2h-1zM663 211h1v3h-1zM664 214h1v3h-1zM665 217h1v2h-1zM666 219h1v2h-1zM667 216h1v3h-1zM668 214h1v2h-1zM669 211h1v3h-1zM670 209h1v2h-1zM671 208h1v1h-1zM672 206h1v2h-1zM673 205h1v1h-1zM674 204h1v1h-1zM675 205h1v1h-1zM676 206h1v1h-1zM677 207h1v1h-1zM678 208h1v1h-1zM679 209h1v1h-1zM680 210h1v2h-1zM681 212h1v1h-1zM682 213h1v2h-1zM683 215h1v2h-1zM684 217h1v2h-1zM685 219h1v2h-1zM686 221h1v2h-1zM687 223h1v1h-1zM691 218h1v5h-1zM692 210h1v8h-1zM693 201h1v9h-1zM694 192h1v9h-1zM695 184h1v8h-1zM696 174h1v10h-1zM697 162h1v12h-1zM698 150h1v12h-1zM699 138h1v12h-1zM700 128h1v10h-1zM701 119h1v9h-1zM702 111h1v8h-1zM703 102h1v9h-1zM704 96h1v6h-1zM705 94h1v2h-1zM706 92h1v2h-1zM707 90h1v2h-1zM708 88h1v2h-1zM709 85h1v3h-1zM710 82h1v3h-1zM711 80h1v2h-1zM712 77h1v3h-1zM713 75h1v2h-1zM714 74h1v1h-1zM715 72h1v2h-1zM716 71h1v1h-1zM717 70h1v1h-1zM718 69h1v1h-1zM719 67h1v2h-1zM721 65h1v1h-1zM722 67h1v2h-1zM723 69h1v3h-1zM724 72h1v2h-1zM725 74h1v2h-1zM726 76h1v5h-1zM727 81h1v6h-1zM728 87h1v6h-1zM729 93h1v6h-1zM730 99h1v6h-1zM731 105h1v5h-1zM732 110h1v4h-1zM733 114h1v5h-1zM734 119h1v5h-1zM735 124h1v4h-1zM736 128h1v5h-1zM737 133h1v5h-1zM738 138h1v4h-1zM739 143h1v2h-1zM740 140h1v2h-1zM741 138h1v2h-1zM742 135h1v3h-1zM743 134h1v1h-1zM747 131h1v1h-1zM748 132h1v1h-1zM749 133h1v1h-1zM750 134h1v1h-1zM751 135h1v2h-1zM752 137h1v2h-1zM753 139h1v2h-1zM754 141h1v2h-1zM755 143h1v2h-1zM756 145h1v2h-1z" fill="#00c800" shape-rendering="crispEdges"/>
<line x1="40" y1="65.5" x2="760" y2="65.5" stroke="#000" stroke-width="1" stroke-dasharray="3 3" shape-rendering="crispEdges"/>
<line x1="40" y1="102.5" x2="760" y2="102.5" stroke="#000" stroke-width="1" stroke-dasharray="3 3" shape-rendering="crispEdges"/>
<line x1="40" y1="138.5" x2="760" y2="138.5" stroke="#000" stroke-width="1" stroke-dasharray="3 3" shape-rendering="crispEdges"/>
<line x1="40" y1="175.5" x2="760" y2="175.5" stroke="#000" stroke-width="1" stroke-dasharray="3 3" shape-rendering="crispEdges"/>
<line x1="40" y1="212.5" x2="760" y2="212.5" stroke="#000" stroke-width="1" stroke-dasharray="3 3" shape-rendering="crispEdges"/>
<line x1="40" y1="248.5" x2="760" y2="248.5" stroke="#000" stroke-width="1" stroke-dasharray="3 3" shape-rendering="crispEdges"/>
<line x1="40" y1="285.5" x2="760" y2="285.5" stroke="#000" stroke-width="1" stroke-dasharray="3 3" shape-rendering="crispEdges"/>
<line x1="40" y1="321.5" x2="760" y2="321.5" stroke="#000" stroke-width="1" stroke-dasharray="3 3" shape-rendering="crispEdges"/>
<line x1="40" y1="358.5" x2="760" y2="358.5" stroke="#000" stroke-width="1" stroke-dasharray="3 3" shape-rendering="crispEdges"/>
<line x1="40" y1="395.5" x2="760" y2="395.5" stroke="#000" stroke-width="1" stroke-dasharray="3 3" shape-rendering="crispEdges"/>
<line x1="40" y1="431.5" x2="760" y2="431.5" stroke="#000" stroke-width="1" stroke-dasharray="3 3" shape-rendering="crispEdges"/>
<line x1="143.5" y1="40" x2="143.5" y2="460" stroke="#000" stroke-width="1" stroke-dasharray="3 3" shape-rendering="crispEdges"/>
<line x1="246.5" y1="40" x2="246.5" y2="460" stroke="#000" stroke-width="1" stroke-dasharray="3 3" shape-rendering="crispEdges"/>
<line x1="349.5" y1="40" x2="349.5" y2="460" stroke="#000" stroke-width="1" stroke-dasharray="3 3" shape-rendering="crispEdges"/>
<line x1="451.5" y1="40" x2="451.5" y2="460" stroke="#000" stroke-width="1" stroke-dasharray="3 3" shape-rendering="crispEdges"/>
<line x1="554.5" y1="40" x2="554.5" y2="460" stroke="#000" stroke-width="1" stroke-dasharray="3 3" shape-rendering="crispEdges"/>
<line x1="657.5" y1="40" x2="657.5" y2="460" stroke="#000" stroke-width="1" stroke-dasharray="3 3" shape-rendering="crispEdges"/>
<rect x="40.5" y="40.5" width="720" height="420" fill="none" stroke="#000" stroke-width="1" shape-rendering="crispEdges"/>
<line x1="40.5" y1="461" x2="40.5" y2="463" stroke="#000" stroke-width="1" shape-rendering="crispEdges"/>
<line x1="143.5" y1="461" x2="143.5" y2="463" stroke="#000" stroke-width="1" shape-rendering="crispEdges"/>
<line x1="246.5" y1="461" x2="246.5" y2="463" stroke="#000" stroke-width="1" shape-rendering="crispEdges"/>
<line x1="349.5" y1="461" x2="349.5" y2="463" stroke="#000" stroke-width="1" shape-rendering="crispEdges"/>
<line x1="451.5" y1="461" x2="451.5" y2="463" stroke="#000" stroke-width="1" shape-rendering="crispEdges"/>
<line x1="554.5" y1="461" x2="554.5" y2="463" stroke="#000" stroke-width="1" shape-rendering="crispEdges"/>
<line x1="657.5" y1="461" x2="657.5" y2="463" stroke="#000" stroke-width="1" shape-rendering="crispEdges"/>
</svg>
<div class="yl" style="top:60px">18,0</div>
<div class="yl" style="top:97px">16,0</div>
<div class="yl" style="top:133px">14,0</div>
<div class="yl" style="top:170px">12,0</div>
<div class="yl" style="top:207px">10,0</div>
<div class="yl" style="top:243px">8,0</div>
<div class="yl" style="top:280px">6,0</div>
<div class="yl" style="top:316px">4,0</div>
<div class="yl" style="top:353px">2,0</div>
<div class="yl" style="top:390px">0,0</div>
<div class="yl" style="top:426px">-2,0</div>
<div class="xl" style="left:-10px;top:467px">lunes</div>
<div class="xl" style="left:-11px;top:483px">15/01/18</div>
<div class="xl" style="left:93px;top:467px">martes</div>
<div class="xl" style="left:92px;top:483px">16/01/18</div>
<div class="xl" style="left:196px;top:467px">miércoles</div>
<div class="xl" style="left:195px;top:483px">17/01/18</div>
<div class="xl" style="left:299px;top:467px">jueves</div>
<div class="xl" style="left:298px;top:483px">18/01/18</div>
<div class="xl" style="left:401px;top:467px">viernes</div>
<div class="xl" style="left:400px;top:483px">19/01/18</div>
<div class="xl" style="left:504px;top:467px">sábado</div>
<div class="xl" style="left:503px;top:483px">20/01/18</div>
<div class="xl" style="left:607px;top:467px">domingo</div>
<div class="xl" style="left:606px;top:483px">21/01/18</div>
</body></html>
